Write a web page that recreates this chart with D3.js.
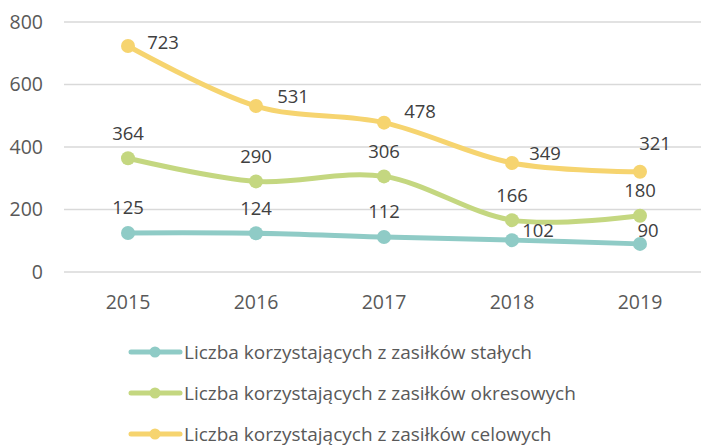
<!DOCTYPE html>
<html>
<head>
<meta charset="utf-8">
<script src="https://cdn.jsdelivr.net/npm/d3@7"></script>
<style>
  body { margin: 0; background: #fff; }
  text { font-family: "Open Sans", sans-serif; }
</style>
</head>
<body>
<div id="chart"></div>
<script>
// data
const years = ["2015", "2016", "2017", "2018", "2019"];
const seriesNames = [
  "Liczba korzystających z zasiłków stałych",
  "Liczba korzystających z zasiłków okresowych",
  "Liczba korzystających z zasiłków celowych"
];
const staleValues = [125, 124, 112, 102, 90];
const okresoweValues = [364, 290, 306, 166, 180];
const celoweValues = [723, 531, 478, 349, 321];
const yTicks = [0, 200, 400, 600, 800];

const colors = ["#8fcbc6", "#c4d780", "#f6d46f"];

// label placement per series: [dx, dy] for each point
const labelOffsets = [
  [[0, -25], [0, -25], [0, -25], [26, -10], [8, -13]],
  [[0, -25], [0, -25], [0, -25], [0, -25], [0, -25]],
  [[35, -4], [37, -10], [36, -11], [33, -9], [15, -28]]
];

const width = 701, height = 447;
const margin = {left: 64, right: -3, top: 22, bottom: 175};

const svg = d3.select("#chart").append("svg")
  .attr("width", width)
  .attr("height", height);

const x = d3.scaleBand()
  .domain(years)
  .range([margin.left, width - margin.right]);

const y = d3.scaleLinear()
  .domain([0, 800])
  .range([height - margin.bottom, margin.top]);

// gridlines
svg.append("g")
  .selectAll("line")
  .data(yTicks)
  .enter().append("line")
  .attr("x1", margin.left)
  .attr("x2", width)
  .attr("y1", d => y(d))
  .attr("y2", d => y(d))
  .attr("stroke", "#d9d9d9")
  .attr("stroke-width", 1.3);

// y axis labels
svg.append("g")
  .selectAll("text")
  .data(yTicks)
  .enter().append("text")
  .attr("x", 43)
  .attr("y", d => y(d))
  .attr("dy", "0.35em")
  .attr("text-anchor", "end")
  .attr("fill", "#595959")
  .style("font-size", "19.5px")
  .text(d => d);

// x axis labels
svg.append("g")
  .selectAll("text")
  .data(years)
  .enter().append("text")
  .attr("x", d => x(d) + x.bandwidth() / 2)
  .attr("y", 302)
  .attr("dy", "0.35em")
  .attr("text-anchor", "middle")
  .attr("fill", "#595959")
  .style("font-size", "19.5px")
  .text(d => d);

const allSeries = [staleValues, okresoweValues, celoweValues];

const line = d3.line()
  .x((d, i) => x(years[i]) + x.bandwidth() / 2)
  .y(d => y(d))
  .curve(d3.curveCardinal.tension(0));

allSeries.forEach(function(vals, s) {
  let g = svg.append("g").attr("class", "series");
  g.append("path")
    .datum(vals)
    .attr("d", line)
    .attr("fill", "none")
    .attr("stroke", colors[s])
    .attr("stroke-width", 5)
    .attr("stroke-linecap", "round");
  g.selectAll("circle")
    .data(vals)
    .enter().append("circle")
    .attr("cx", (d, i) => x(years[i]) + x.bandwidth() / 2)
    .attr("cy", d => y(d))
    .attr("r", 7)
    .attr("fill", colors[s]);
});

// data labels
allSeries.forEach(function(vals, s) {
  svg.append("g")
    .selectAll("text")
    .data(vals)
    .enter().append("text")
    .attr("x", (d, i) => x(years[i]) + x.bandwidth() / 2 + labelOffsets[s][i][0])
    .attr("y", (d, i) => y(d) + labelOffsets[s][i][1])
    .attr("dy", "0.35em")
    .attr("text-anchor", "middle")
    .attr("fill", "#404040")
    .style("font-size", "18.5px")
    .text(d => d);
});

// legend
let legend = svg.append("g")
  .selectAll("g")
  .data(seriesNames)
  .enter().append("g")
  .attr("transform", (d, i) => "translate(0," + (352 + i * 41) + ")");

legend.append("line")
  .attr("x1", 131).attr("x2", 180)
  .attr("y1", 0).attr("y2", 0)
  .attr("stroke", (d, i) => colors[i])
  .attr("stroke-width", 5)
  .attr("stroke-linecap", "round");

legend.append("circle")
  .attr("cx", 155).attr("cy", 0).attr("r", 5.5)
  .attr("fill", (d, i) => colors[i]);

legend.append("text")
  .attr("x", 184)
  .attr("y", 0)
  .attr("dy", "0.35em")
  .attr("fill", "#595959")
  .style("font-size", "19px")
  .text(d => d);
</script>
</body>
</html>
